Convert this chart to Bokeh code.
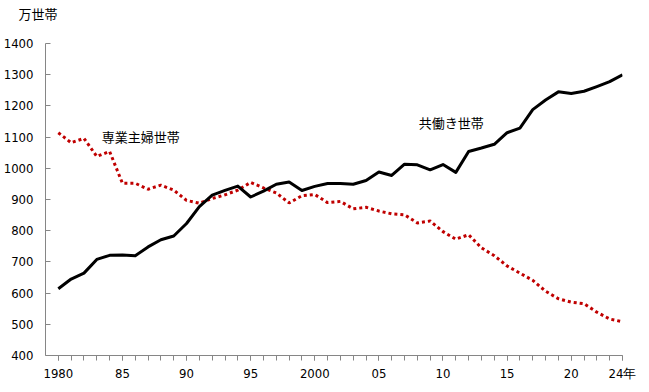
from bokeh.plotting import figure
from bokeh.models import Range1d, FixedTicker, Label
from bokeh.embed import file_html
from bokeh.resources import INLINE

years = list(range(1980, 2025))
dual_income = [614, 645, 664, 708, 721, 722, 720, 748, 771, 783,
               823, 877, 914, 929, 943, 908, 927, 949, 956, 929,
               942, 951, 951, 949, 961, 988, 977, 1013, 1011, 995,
               1012, 987, 1054, 1065, 1077, 1114, 1129, 1188, 1219, 1245,
               1240, 1247, 1262, 1278, 1300]
housewife = [1114, 1082, 1096, 1038, 1054, 952, 952, 933, 946, 930,
             897, 888, 903, 915, 930, 955, 937, 921, 889, 912,
             916, 890, 894, 870, 875, 863, 854, 851, 825, 831,
             797, 773, 787, 745, 720, 687, 664, 641, 606, 582,
             571, 566, 539, 517, 508]
x_label_years = [1980, 1985, 1990, 1995, 2000, 2005, 2010, 2015, 2020, 2024]
x_label_texts = ["1980", "85", "90", "95", "2000", "05", "10", "15", "20", "24年"]
y_ticks = list(range(400, 1401, 100))

LATIN = "DejaVu Sans Condensed"
CJK = "Noto Sans CJK JP"
AXIS_COLOR = "#868686"

p = figure(width=649, height=392, output_backend="svg", toolbar_location=None,
           x_range=Range1d(1979, 2024), y_range=Range1d(400, 1400),
           min_border_left=44, min_border_right=27, min_border_top=43, min_border_bottom=37)
p.outline_line_color = None
p.grid.grid_line_color = None
p.background_fill_color = "white"
p.border_fill_color = "white"

p.title.text = "万世帯\n "
p.title.text_font = CJK
p.title.text_font_size = "13px"
p.title.text_font_style = "normal"
p.title.text_color = "black"
p.title.align = "left"
p.title.vertical_align = "top"
p.title.offset = -27
p.title.standoff = 0

p.line(years, housewife, line_color="#C00000", line_width=3, line_dash="3 3")
p.line(years, dual_income, line_color="black", line_width=3, line_join="round")

xa = p.xaxis[0]
xa.ticker = FixedTicker(ticks=x_label_years, minor_ticks=years)
xa.major_label_overrides = {y: t for y, t in zip(x_label_years, x_label_texts)}
xa.axis_line_color = AXIS_COLOR
xa.major_tick_line_color = AXIS_COLOR
xa.minor_tick_line_color = AXIS_COLOR
xa.major_tick_in = 0
xa.major_tick_out = 5
xa.minor_tick_in = 0
xa.minor_tick_out = 5
xa.major_label_standoff = 5
xa.major_label_text_font = LATIN
xa.major_label_text_font_size = "13px"
xa.major_label_text_color = "black"

ya = p.yaxis[0]
ya.ticker = FixedTicker(ticks=y_ticks)
ya.axis_line_color = AXIS_COLOR
ya.major_tick_line_color = AXIS_COLOR
ya.minor_tick_line_color = None
ya.major_tick_in = 5
ya.major_tick_out = 0
ya.major_label_standoff = 12
ya.major_label_text_font = LATIN
ya.major_label_text_font_size = "13px"
ya.major_label_text_color = "black"

def add_label(x, y, text):
    p.add_layout(Label(x=x, y=y, text=text, text_font=CJK, text_font_size="13px",
                       text_color="black", text_align="left", text_baseline="middle"))

add_label(1983.38, 1103, "専業主婦世帯")
add_label(2008.11, 1148, "共働き世帯")

open("out.html", "w").write(file_html(p, INLINE))
